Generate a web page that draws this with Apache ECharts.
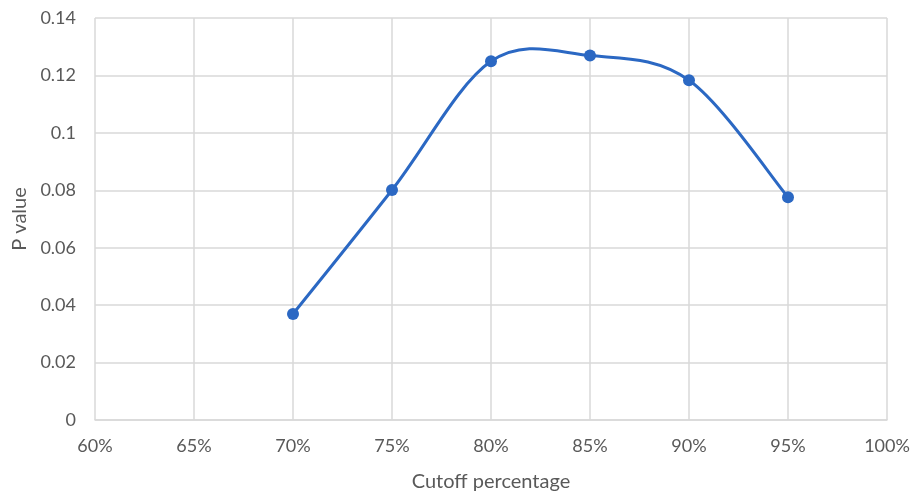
<!DOCTYPE html>
<html><head><meta charset="utf-8">
<script src="https://cdn.jsdelivr.net/npm/echarts@6/dist/echarts.min.js"></script>
<style>html,body{margin:0;padding:0;background:#fff}#c{width:910px;height:491px}</style>
</head><body><div id="c"></div>
<script>
const cutoffs = [0.70, 0.75, 0.80, 0.85, 0.90, 0.95];
const pValues = [0.0369, 0.0801, 0.1249, 0.1269, 0.1183, 0.0776];
const xTicks = { min: 0.6, max: 1.0, step: 0.05 };
const yTicks = { min: 0, max: 0.14, step: 0.02 };
const xTitle = 'Cutoff percentage';
const yTitle = 'P value';

const font = 'Lato, "Open Sans", sans-serif';
const color = '#2B68C3';
const points = cutoffs.map((c, i) => [c, pValues[i]]);

// Excel-style smoothed curve (Catmull-Rom style Bezier) through library coordinates
function renderCurve(params, api) {
  if (params.dataIndexInside !== 0) return null;
  const P = points.map(p => api.coord(p));
  const n = P.length;
  let d = 'M' + P[0][0] + ' ' + P[0][1];
  for (let i = 0; i < n - 1; i++) {
    const p0 = P[Math.max(i - 1, 0)], p1 = P[i], p2 = P[i + 1], p3 = P[Math.min(i + 2, n - 1)];
    const c1 = [p1[0] + (p2[0] - p0[0]) / 6, p1[1] + (p2[1] - p0[1]) / 6];
    const c2 = [p2[0] - (p3[0] - p1[0]) / 6, p2[1] - (p3[1] - p1[1]) / 6];
    d += ' C' + c1[0] + ' ' + c1[1] + ' ' + c2[0] + ' ' + c2[1] + ' ' + p2[0] + ' ' + p2[1];
  }
  return {
    type: 'path',
    shape: { pathData: d },
    style: { fill: null, stroke: color, lineWidth: 3, lineCap: 'round', lineJoin: 'round' }
  };
}

const chart = echarts.init(document.getElementById('c'), null, {renderer: 'canvas'});
chart.setOption({
  animation: false,
  backgroundColor: '#fff',
  grid: { left: 95, right: 23, top: 18, bottom: 71, containLabel: false, outerBoundsMode: 'none' },
  xAxis: {
    type: 'value', min: xTicks.min, max: xTicks.max, interval: xTicks.step,
    name: xTitle, nameLocation: 'middle', nameGap: 52,
    nameTextStyle: { color: '#595959', fontSize: 20, fontFamily: font },
    axisLine: { show: true, lineStyle: { color: '#d9d9d9', width: 1.5 } },
    axisTick: { show: false },
    axisLabel: { color: '#595959', fontSize: 18, fontFamily: font, margin: 17,
      formatter: v => Math.round(v * 100) + '%' },
    splitLine: { show: true, lineStyle: { color: '#d9d9d9', width: 1.5 } }
  },
  yAxis: {
    type: 'value', min: yTicks.min, max: yTicks.max, interval: yTicks.step,
    name: yTitle, nameLocation: 'middle', nameGap: 64,
    nameTextStyle: { color: '#595959', fontSize: 20, fontFamily: font },
    axisLine: { show: false }, axisTick: { show: false },
    axisLabel: { color: '#595959', fontSize: 18, fontFamily: font, margin: 19,
      formatter: v => String(parseFloat(v.toFixed(2))) },
    splitLine: { show: true, lineStyle: { color: '#d9d9d9', width: 1.5 } }
  },
  series: [{
    type: 'custom',
    renderItem: renderCurve,
    data: points,
    z: 2
  }, {
    type: 'scatter',
    data: points,
    symbol: 'circle', symbolSize: 12,
    itemStyle: { color: color, opacity: 1 },
    z: 3
  }]
});
</script></body></html>
